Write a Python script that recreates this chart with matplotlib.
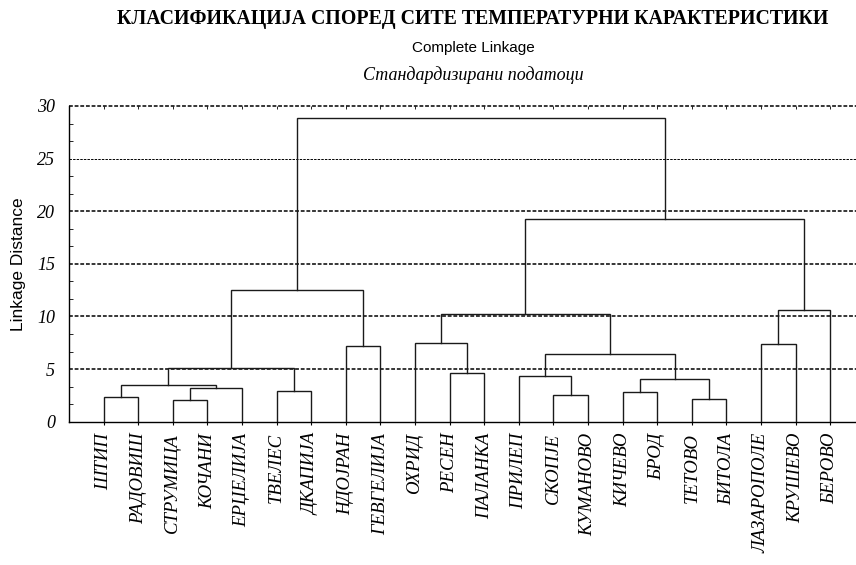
"""Complete linkage dendrogram of Macedonian stations (standardised temperature data)."""
import matplotlib
matplotlib.use('Agg')
from matplotlib import pyplot as plt
from matplotlib.ticker import MultipleLocator

leaves = ['ШТИП', 'РАДОВИШ', 'СТРУМИЦА', 'КОЧАНИ', 'ЕРЏЕЛИЈА', 'ТВЕЛЕС',
          'ДКАПИЈА', 'НДОЈРАН', 'ГЕВГЕЛИЈА', 'ОХРИД', 'РЕСЕН', 'ПАЛАНКА',
          'ПРИЛЕП', 'СКОПЈЕ', 'КУМАНОВО', 'КИЧЕВО', 'БРОД', 'ТЕТОВО',
          'БИТОЛА', 'ЛАЗАРОПОЛЕ', 'КРУШЕВО', 'БЕРОВО']

# merges: (cluster a, cluster b, linkage distance); new clusters get ids 22, 23, ...
merge_a = [0, 2, 23, 22, 5, 25, 7, 27, 10, 9, 13, 12, 15, 17, 34, 33, 31, 19, 39, 38, 29]
merge_b = [1, 3, 4, 24, 6, 26, 8, 28, 11, 30, 14, 32, 16, 18, 35, 36, 37, 20, 21, 40, 41]
merge_h = [2.32, 2.06, 3.17, 3.46, 2.95, 5.13, 7.22, 12.52, 4.66, 7.45, 2.51,
           4.31, 2.79, 2.16, 4.09, 6.41, 10.25, 7.36, 10.59, 19.24, 28.84]

yticks = [0, 5, 10, 15, 20, 25, 30]


def plot():
    fig = plt.figure(figsize=(8.56, 5.65), dpi=100)
    ax = fig.add_axes([69 / 856, 1 - 421.7 / 565, 23 * 34.6 / 856, 315.7 / 565])

    n = len(leaves)
    xpos = {i: i + 1.0 for i in range(n)}
    ypos = {i: 0.0 for i in range(n)}
    for k, (a, b, h) in enumerate(zip(merge_a, merge_b, merge_h)):
        xa, xb = xpos[a], xpos[b]
        ax.plot([xa, xa, xb, xb], [ypos[a], h, h, ypos[b]],
                color='#1a1a1a', lw=1.0, solid_joinstyle='miter', zorder=3)
        xpos[n + k] = (xa + xb) / 2
        ypos[n + k] = h

    # dotted reference lines
    for v in yticks[1:]:
        ax.axhline(v, color='black', lw=0.7 if v == 25 else 1.1,
                   ls=(0, (2.5, 1.2)), zorder=1, clip_on=False)

    ax.set_xlim(0, n + 1)
    ax.set_ylim(0, 30)
    ax.spines['top'].set_visible(False)
    ax.spines['right'].set_visible(False)
    ax.spines['left'].set_linewidth(1.0)
    ax.spines['bottom'].set_linewidth(1.0)

    ax.set_xticks(range(1, n + 1))
    ax.set_xticklabels(leaves, rotation=90, va='top', ha='center',
                       family='Liberation Serif', style='italic', fontsize=13.5)
    ax.tick_params(axis='x', direction='out', length=2.5, width=0.8, pad=5.5)

    ax.set_yticks(yticks)
    ax.set_yticklabels([str(v) for v in yticks], family='Liberation Serif',
                       style='italic', fontsize=13)
    ax.yaxis.set_minor_locator(MultipleLocator(5 / 3))
    ax.tick_params(axis='y', which='major', direction='in', length=0, pad=10)
    ax.tick_params(axis='y', which='minor', direction='in', length=3, width=0.6)

    top = ax.secondary_xaxis('top')
    top.set_xticks(range(1, n + 1))
    top.set_xticklabels([])
    top.tick_params(direction='in', length=2.5, width=0.6)
    top.spines['top'].set_visible(False)

    ax.set_ylabel('Linkage Distance', family='Liberation Sans', fontsize=12.5)
    ax.yaxis.set_label_coords(-43 / 796, 0.5)

    fig.text(473 / 856, 1 - 19 / 565, 'КЛАСИФИКАЦИЈА СПОРЕД СИТЕ ТЕМПЕРАТУРНИ КАРАКТЕРИСТИКИ',
             ha='center', va='center', family='Liberation Serif',
             weight='bold', fontsize=14.3)
    fig.text(473 / 856, 1 - 48 / 565, 'Complete Linkage', ha='center', va='center',
             family='Liberation Sans', fontsize=11)
    fig.text(473 / 856, 1 - 75 / 565, 'Стандардизирани податоци', ha='center',
             va='center', family='Liberation Serif', style='italic', fontsize=13)

    fig.savefig('out.png', dpi=100)


if __name__ == '__main__':
    plot()
